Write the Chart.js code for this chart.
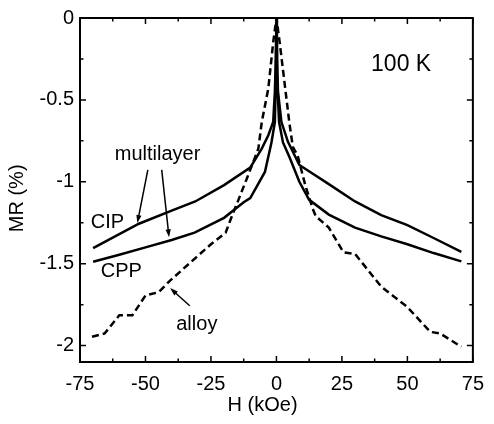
<!DOCTYPE html>
<html lang="en">
<head>
  <meta charset="UTF-8" />
  <title>MR vs H – 100 K</title>
  <script src="https://cdn.jsdelivr.net/npm/chart.js"></script>
  <style>
    body { margin: 0; background: #fff; }
  </style>
</head>
<body>
  <canvas id="mrChart" width="494" height="424"></canvas>

  <script>
    // values (H in kOe, MR in %)
    const cipH  = [-70, -60, -52.5, -40, -31, -20, -10, -5.6, -3.1, -1.25, -0.6, -0.25, 0, 0.25, 0.6, 1.9, 4.4, 8.75, 20, 30, 40, 50, 60, 70.6];
    const cipMR = [-1.405, -1.32, -1.256, -1.176, -1.12, -1.02, -0.913, -0.797, -0.716, -0.635, -0.45, -0.25, 0, -0.25, -0.45, -0.635, -0.756, -0.897, -1.014, -1.12, -1.204, -1.264, -1.343, -1.428];

    const cppH  = [-70, -60, -50, -40, -31.25, -20, -12.5, -10, -4.4, -1.9, -0.6, -0.2, 0, 0.2, 1, 2.5, 5, 8.75, 12.5, 20, 30, 40, 50, 60, 70.6];
    const cppMR = [-1.488, -1.445, -1.4, -1.355, -1.31, -1.22, -1.125, -1.099, -0.94, -0.76, -0.635, -0.35, 0, -0.35, -0.635, -0.76, -0.85, -1.0, -1.11, -1.2, -1.28, -1.333, -1.381, -1.435, -1.486];

    const alloyH  = [-70.4, -65.6, -60, -55, -50, -45, -40.6, -25, -19.4, -17.5, -15, -11.25, -6.9, -5.6, -3.1, -1.25, 0, 1.25, 3.5, 4.9, 6.25, 8.1, 11, 13.75, 15, 20, 25.6, 30, 40, 50, 58.75, 62.5, 70.6];
    const alloyMR = [-1.946, -1.926, -1.815, -1.815, -1.694, -1.674, -1.603, -1.381, -1.311, -1.23, -1.13, -0.978, -0.797, -0.635, -0.43, -0.15, 0, -0.15, -0.45, -0.635, -0.786, -0.84, -1.02, -1.16, -1.21, -1.28, -1.43, -1.44, -1.64, -1.765, -1.916, -1.926, -2.007];

    const xTicks = [-75, -50, -25, 0, 25, 50, 75];
    const yTicks = [0, -0.5, -1, -1.5, -2];

    const toPoints = (hs, mrs) => hs.map((h, i) => ({ x: h, y: mrs[i] }));
    const isOn = (v, list) => list.some(t => Math.abs(t - v) < 1e-6);

    Chart.defaults.font.family = "'Liberation Sans', Arial, sans-serif";
    Chart.defaults.color = '#000';

    // box + inward ticks on all four sides
    const frame = {
      id: 'frame',
      afterDraw(chart) {
        const { ctx, chartArea: a, scales: { x, y } } = chart;
        ctx.save();
        ctx.strokeStyle = '#000';
        ctx.lineWidth = 2;
        ctx.strokeRect(a.left, a.top, a.right - a.left, a.bottom - a.top);
        ctx.lineWidth = 1.5;
        x.ticks.forEach(t => {
          const px = x.getPixelForValue(t.value);
          const len = isOn(t.value, xTicks) ? 6 : 3.5;
          ctx.beginPath();
          ctx.moveTo(px, a.bottom); ctx.lineTo(px, a.bottom - len);
          ctx.moveTo(px, a.top); ctx.lineTo(px, a.top + len);
          ctx.stroke();
        });
        y.ticks.forEach(t => {
          if (Math.abs(t.value * 4 - Math.round(t.value * 4)) > 1e-6) return;
          const py = y.getPixelForValue(t.value);
          const len = isOn(t.value, yTicks) ? 6 : 3.5;
          ctx.beginPath();
          ctx.moveTo(a.left, py); ctx.lineTo(a.left + len, py);
          ctx.moveTo(a.right, py); ctx.lineTo(a.right - len, py);
          ctx.stroke();
        });
        ctx.restore();
      }
    };

    // text labels and arrows inside the plot
    const notes = {
      id: 'notes',
      afterDraw(chart) {
        const { ctx, scales: { x, y } } = chart;
        const P = (h, m) => [x.getPixelForValue(h), y.getPixelForValue(m)];
        ctx.save();
        ctx.fillStyle = '#000';
        ctx.textAlign = 'center';
        ctx.textBaseline = 'middle';
        ctx.font = "20px 'Liberation Sans', Arial, sans-serif";
        const text = (s, h, m) => { const [px, py] = P(h, m); ctx.fillText(s, px, py); };
        text('multilayer', -45.4, -0.836);
        text('CIP', -64.5, -1.248);
        text('CPP', -59.25, -1.545);
        text('alloy', -30.4, -1.872);
        ctx.font = "23px 'Liberation Sans', Arial, sans-serif";
        text('100 K', 47.6, -0.285);

        const arrow = (h0, m0, h1, m1) => {
          const [x0, y0] = P(h0, m0);
          const [x1, y1] = P(h1, m1);
          const ang = Math.atan2(y1 - y0, x1 - x0);
          ctx.lineWidth = 1.5;
          ctx.beginPath();
          ctx.moveTo(x0, y0);
          ctx.lineTo(x1 - 5 * Math.cos(ang), y1 - 5 * Math.sin(ang));
          ctx.stroke();
          ctx.beginPath();
          ctx.moveTo(x1, y1);
          ctx.lineTo(x1 - 8 * Math.cos(ang) + 2.6 * Math.sin(ang), y1 - 8 * Math.sin(ang) - 2.6 * Math.cos(ang));
          ctx.lineTo(x1 - 8 * Math.cos(ang) - 2.6 * Math.sin(ang), y1 - 8 * Math.sin(ang) + 2.6 * Math.cos(ang));
          ctx.closePath();
          ctx.fill();
        };
        arrow(-49.1, -0.927, -53.1, -1.252);
        arrow(-43.8, -0.927, -41.0, -1.339);
        arrow(-33.1, -1.757, -40.6, -1.649);
        ctx.restore();
      }
    };

    const lineStyle = { borderColor: '#000', borderWidth: 2.5, pointRadius: 0, showLine: true, fill: false, tension: 0 };

    new Chart(document.getElementById('mrChart'), {
      type: 'scatter',
      data: {
        datasets: [
          { label: 'CIP', data: toPoints(cipH, cipMR), ...lineStyle },
          { label: 'CPP', data: toPoints(cppH, cppMR), ...lineStyle },
          { label: 'alloy', data: toPoints(alloyH, alloyMR), ...lineStyle, borderDash: [7, 4] }
        ]
      },
      options: {
        responsive: false,
        animation: false,
        layout: { padding: { top: 15, right: 14, left: 0, bottom: 0 } },
        plugins: { legend: { display: false }, tooltip: { enabled: false } },
        scales: {
          x: {
            type: 'linear',
            min: -75,
            max: 75,
            afterFit(scale) { scale.height = 62; },
            grid: { display: false, drawTicks: false },
            border: { display: false },
            ticks: {
              stepSize: 12.5,
              padding: 10,
              maxRotation: 0,
              autoSkip: false,
              font: { size: 20 },
              callback: v => isOn(v, xTicks) ? String(Math.round(v)) : ''
            },
            title: {
              display: true,
              text: 'H (kOe)     ',
              font: { size: 20 },
              padding: { top: 0, bottom: 7 }
            }
          },
          y: {
            type: 'linear',
            min: -2.1,
            max: 0,
            afterFit(scale) { scale.width = 80; },
            grid: { display: false, drawTicks: false },
            border: { display: false },
            ticks: {
              stepSize: 0.25,
              includeBounds: false,
              padding: 6,
              autoSkip: false,
              font: { size: 20 },
              callback: v => isOn(v, yTicks) ? String(Math.round(v * 10) / 10 || 0) : ''
            },
            title: {
              display: true,
              text: 'MR (%)   ',
              font: { size: 20 },
              padding: { top: 5, bottom: 0 }
            }
          }
        }
      },
      plugins: [frame, notes]
    });
  </script>
</body>
</html>
